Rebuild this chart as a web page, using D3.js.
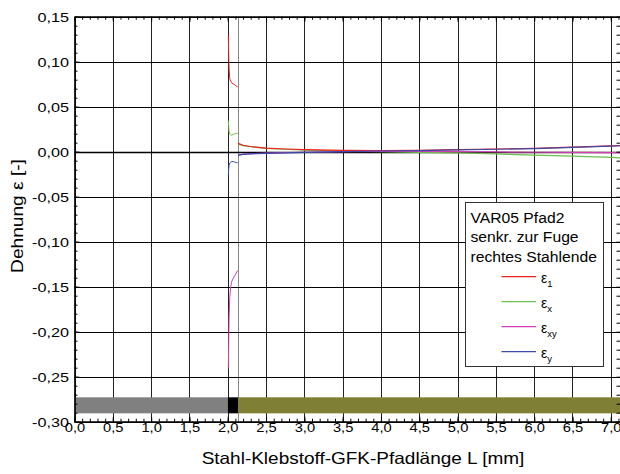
<!DOCTYPE html>
<html><head><meta charset="utf-8">
<script src="https://cdn.jsdelivr.net/npm/d3@7"></script>
<style>
html,body{margin:0;padding:0;background:#fff;}
svg{display:block;font-family:"Liberation Sans",Arial,sans-serif;}
</style></head>
<body>
<svg id="c" width="620" height="474"></svg>
<script>
// ---- data ----
const xTicks = [0,0.5,1,1.5,2,2.5,3,3.5,4,4.5,5,5.5,6,6.5,7];
const yTicks = [-0.30,-0.25,-0.20,-0.15,-0.10,-0.05,0,0.05,0.10,0.15];
const seriesNames = ["ε1","εx","εxy","εy"];
const seriesColors = ["#ee2020","#6cbf4a","#d040b4","#3a4aa8"];
// adhesive layer (Klebstoff) path points
const xAdh = [2.008,2.012,2.018,2.026,2.039,2.052,2.07,2.09,2.11,2.13];
const e1Adh  = [0.129,0.110,0.092,0.0815,0.0785,0.0765,0.0755,0.0745,0.073,0.072];
const exAdh  = [0.0345,0.028,0.022,0.0195,0.0185,0.0185,0.019,0.0198,0.0203,0.0205];
const exyAdh = [-0.241,-0.215,-0.185,-0.162,-0.150,-0.1444,-0.141,-0.138,-0.135,-0.132];
const eyAdh  = [-0.026,-0.020,-0.015,-0.0125,-0.0115,-0.011,-0.011,-0.0115,-0.012,-0.0125];
// GFK path points
const xGfk = [2.135,2.16,2.2,2.3,2.5,2.75,3.0,3.5,4.0,4.5,5.0,5.5,6.0,6.5,7.0,7.2];
const e1Gfk  = [0.0092,0.0084,0.0072,0.0058,0.0040,0.0030,0.0023,0.0014,0.0012,0.0015,0.0022,0.0030,0.0038,0.0051,0.0065,0.0070];
const exGfk  = [0.0085,0.0078,0.0068,0.0055,0.0038,0.0027,0.0018,0.0008,0.0,-0.0007,-0.0012,-0.0025,-0.0038,-0.0050,-0.0064,-0.0070];
const exyGfk = [-0.0035,-0.0032,-0.0028,-0.0022,-0.0016,-0.0010,-0.0006,0.0,0.0003,0.0002,0.0,-0.0003,-0.0006,-0.0008,-0.0010,-0.0011];
const eyGfk  = [-0.0040,-0.0036,-0.0030,-0.0024,-0.0018,-0.0012,-0.0007,0.0,0.0008,0.0013,0.0020,0.0027,0.0035,0.0048,0.0063,0.0068];
// material bar: [start, end]
const matNames = ["Stahl","Klebstoff","GFK"];
const matStart = [0, 2.0, 2.135];
const matEnd   = [2.0, 2.135, 7.2];
const matColors = ["#808080","#000000","#7f7f36"];
const barRange = [-0.2907, -0.2729];
const legendTitle = ["VAR05 Pfad2","senkr. zur Fuge","rechtes Stahlende"];
const legendSub = ["1","x","xy","y"];

// ---- chart ----
const svg = d3.select("#c");
const L = 74.5, R = 620, T = 16.7, B = 421.7;
const x = d3.scaleLinear().domain([0, 7.12]).range([L, R]);
const y = d3.scaleLinear().domain([-0.30, 0.15]).range([B, T]);
const fmt1 = d => d3.format(".1f")(d).replace(".", ",").replace("−","-");
const fmt2 = d => d3.format(".2f")(d).replace(".", ",").replace("−","-");
function stretch(sel, f){
  sel.each(function(){
    const w = this.getComputedTextLength();
    if (w > 0) d3.select(this).attr("textLength", w*f).attr("lengthAdjust","spacingAndGlyphs");
  });
}

svg.append("defs").append("clipPath").attr("id","clip")
  .append("rect").attr("x",L).attr("y",T).attr("width",R-L).attr("height",B-T);

// grid
const g = svg.append("g");
g.selectAll("line.vg").data(xTicks).enter().append("line")
  .attr("x1",d=>Math.round(x(d))+0.5).attr("x2",d=>Math.round(x(d))+0.5)
  .attr("y1",T).attr("y2",B).attr("stroke","#222").attr("stroke-width",1);
g.append("line").attr("x1",Math.round(x(2.135))+0.5).attr("x2",Math.round(x(2.135))+0.5)
  .attr("y1",T).attr("y2",B).attr("stroke","#888").attr("stroke-width",1);
g.selectAll("line.hg").data(yTicks).enter().append("line")
  .attr("x1",L).attr("x2",R)
  .attr("y1",d=>Math.round(y(d))+0.5).attr("y2",d=>Math.round(y(d))+0.5)
  .attr("stroke","#000").attr("stroke-width",d=>d===0?1.6:1);

// material bar
const bar = svg.append("g").attr("clip-path","url(#clip)");
bar.selectAll("rect").data(matNames).enter().append("rect")
  .attr("x",(d,i)=>x(matStart[i]))
  .attr("width",(d,i)=>x(matEnd[i])-x(matStart[i]))
  .attr("y",y(barRange[1])).attr("height",y(barRange[0])-y(barRange[1]))
  .attr("fill",(d,i)=>matColors[i]);

// curves
const line = d3.line().x(d=>x(d[0])).y(d=>y(d[1]));
const adh = [e1Adh, exAdh, exyAdh, eyAdh];
const gfk = [e1Gfk, exGfk, exyGfk, eyGfk];
const cg = svg.append("g").attr("clip-path","url(#clip)");
[0,1,2,3].forEach(i=>{
  cg.append("path").datum(xAdh.map((v,k)=>[v,adh[i][k]]))
    .attr("d",line).attr("fill","none").attr("stroke",seriesColors[i]).attr("stroke-width",1);
});
[1,0,2,3].forEach(i=>{
  cg.append("path").datum(xGfk.map((v,k)=>[v,gfk[i][k]]))
    .attr("d",line).attr("fill","none").attr("stroke",seriesColors[i]).attr("stroke-width",1.2);
});

// axes
const xMinor = d3.range(0, 71.5, 1).map(d=>d/10);
const yMinor = d3.range(-30, 15.5, 1).map(d=>d/100);
function styleAxis(sel, fs){
  sel.selectAll("path.domain").attr("stroke","#000").attr("stroke-width",1.2);
  sel.selectAll(".tick line").attr("stroke","#000");
  sel.selectAll("text").attr("fill","#000").attr("font-size",(fs||13)+"px").attr("font-family","Liberation Sans, Arial, sans-serif");
}
// bottom
svg.append("g").attr("transform",`translate(0,${B})`)
  .call(d3.axisBottom(x).tickValues(xMinor).tickSize(-3).tickSizeOuter(0).tickFormat(""))
  .call(styleAxis);
const xAx = svg.append("g").attr("transform",`translate(0,${B})`)
  .call(d3.axisBottom(x).tickValues(xTicks).tickSize(-5).tickSizeOuter(0).tickPadding(1.5).tickFormat(fmt1))
  .call(s=>styleAxis(s,13));
stretch(xAx.selectAll("text"), 1.13);
// top
svg.append("g").attr("transform",`translate(0,${T})`)
  .call(d3.axisTop(x).tickValues(xMinor).tickSize(-3).tickSizeOuter(0).tickFormat(""))
  .call(styleAxis);
svg.append("g").attr("transform",`translate(0,${T})`)
  .call(d3.axisTop(x).tickValues(xTicks).tickSize(-5).tickSizeOuter(0).tickFormat(""))
  .call(styleAxis);
// left
svg.append("g").attr("transform",`translate(${L},0)`)
  .call(d3.axisLeft(y).tickValues(yMinor).tickSize(-3).tickSizeOuter(0).tickFormat(""))
  .call(styleAxis);
const yAx = svg.append("g").attr("transform",`translate(${L},0)`)
  .call(d3.axisLeft(y).tickValues(yTicks).tickSize(-5).tickSizeOuter(0).tickPadding(5.5).tickFormat(fmt2))
  .call(s=>styleAxis(s,13.5));
stretch(yAx.selectAll("text"), 1.2);
// right
svg.append("g").attr("transform",`translate(${R+0.5},0)`)
  .call(d3.axisRight(y).tickValues(yMinor).tickSize(-4).tickSizeOuter(0).tickFormat(""))
  .call(styleAxis);

// axis titles
const xt = svg.append("text").attr("x",363).attr("y",464).attr("text-anchor","middle")
  .attr("font-size","16.5px").attr("fill","#000").text("Stahl-Klebstoff-GFK-Pfadlänge L [mm]");
stretch(xt, 1.15);
const yt = svg.append("text").attr("transform","translate(23,216) rotate(-90)").attr("text-anchor","middle")
  .attr("font-size","16.5px").attr("fill","#000").text("Dehnung ε [-]");
stretch(yt, 1.16);

// legend
const lg = svg.append("g");
lg.append("rect").attr("x",465.5).attr("y",202.5).attr("width",138).attr("height",164)
  .attr("fill","#fff").attr("stroke","#333").attr("stroke-width",1);
legendTitle.forEach((t,i)=>{
  const tt = lg.append("text").attr("x",470.5).attr("y",223+i*19.3).attr("font-size","14px").attr("fill","#000").text(t);
  stretch(tt, 1.12);
});
seriesNames.forEach((n,i)=>{
  const yy = 276.7 + i*25;
  lg.append("line").attr("x1",501.5).attr("x2",536).attr("y1",yy).attr("y2",yy)
    .attr("stroke",seriesColors[i]).attr("stroke-width",1.2);
  const t = lg.append("text").attr("x",541).attr("y",yy+6).attr("font-size","14px").attr("fill","#000");
  t.append("tspan").text("ε");
  t.append("tspan").attr("font-size","9.5px").attr("dy",4).text(legendSub[i]);
});
</script>
</body></html>
